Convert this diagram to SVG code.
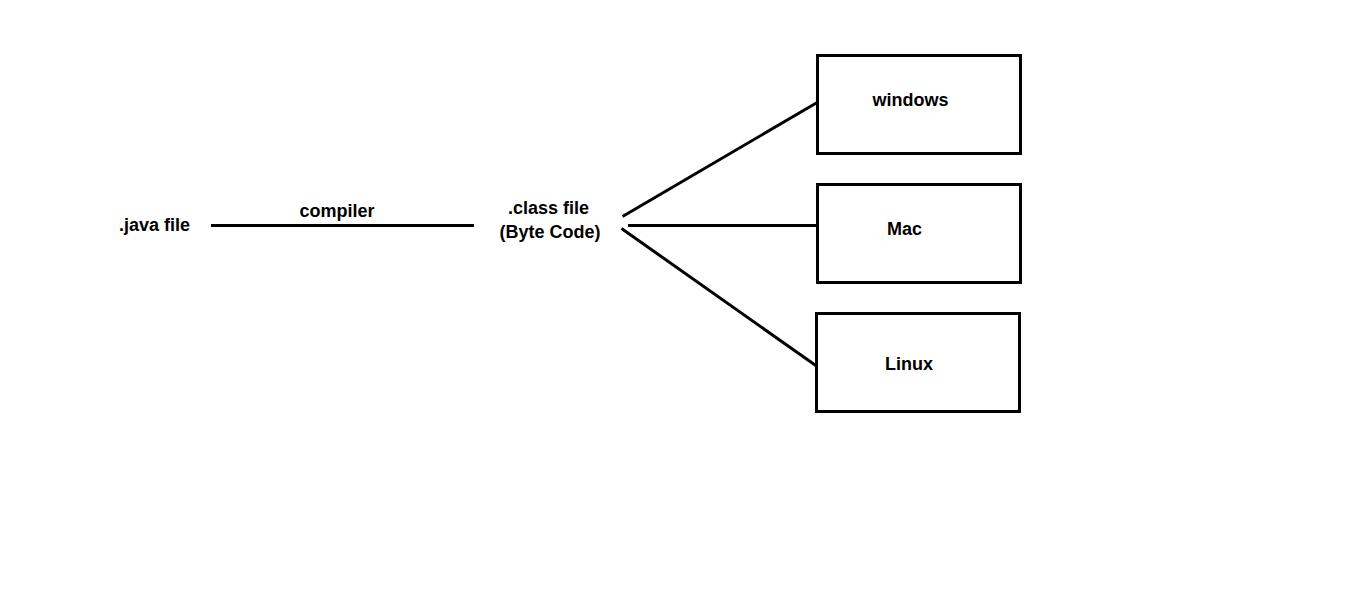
<svg xmlns="http://www.w3.org/2000/svg" width="1360" height="613" viewBox="0 0 1360 613">
<style>
text{font-family:"Liberation Sans","Open Sans",Arial,sans-serif;font-weight:bold;font-size:18px;fill:#000;text-anchor:middle}
.box{fill:#fff;stroke:#000;stroke-width:3}
.ln{stroke:#000;stroke-width:3;fill:none}
</style>
<rect x="0" y="0" width="1360" height="613" fill="#fff"/>
<g id="connectors">
<line class="ln" x1="211" y1="225.5" x2="474" y2="225.5"/>
<line class="ln" x1="622.5" y1="216.5" x2="818" y2="102"/>
<line class="ln" x1="628" y1="225.5" x2="818" y2="225.5"/>
<line class="ln" x1="621.5" y1="228.5" x2="816.5" y2="366"/>
<text x="337" y="217">compiler</text>
</g>
<g id="java"><text x="154.5" y="231">.java file</text></g>
<g id="class"><text x="548.5" y="214">.class file</text><text x="550" y="238">(Byte Code)</text></g>
<g id="windows"><rect class="box" x="817.5" y="55.5" width="203" height="98"/><text x="910.5" y="106">windows</text></g>
<g id="mac"><rect class="box" x="817.5" y="184.5" width="203" height="98"/><text x="904.5" y="235">Mac</text></g>
<g id="linux"><rect class="box" x="816.5" y="313.5" width="203" height="98"/><text x="909" y="370">Linux</text></g>
</svg>
